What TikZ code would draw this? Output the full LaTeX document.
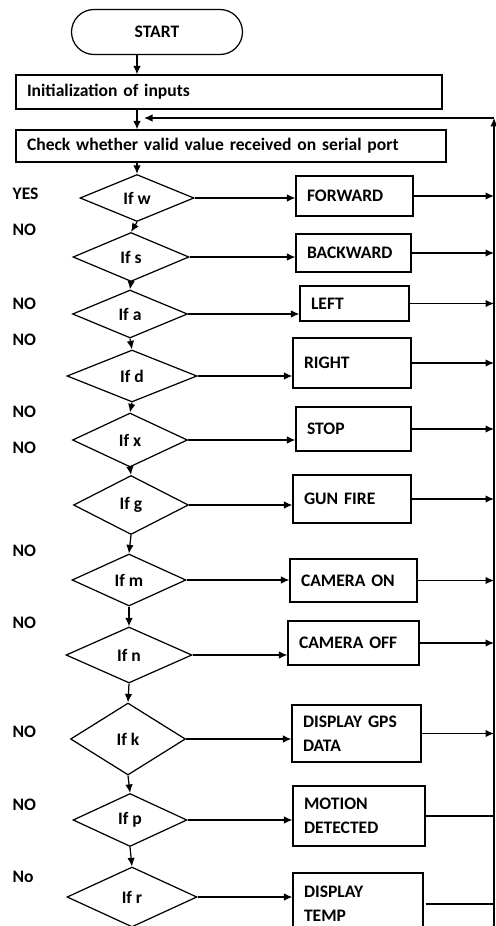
\documentclass[tikz,border=0pt]{standalone}
\usepackage{fontspec}
\setmainfont{Carlito}
\usetikzlibrary{arrows.meta,shapes.geometric}

\begin{document}
\begin{tikzpicture}[x=0.02cm,y=-0.02cm,line width=0.7pt,>={Latex[length=1.7mm,width=1.5mm]},
    every node/.style={font=\bfseries\fontsize{10}{13.5}\selectfont},
    terminal/.style={draw,rounded corners=0.45cm,minimum width=3.42cm,minimum height=0.9cm},
    process/.style={draw,inner xsep=0.22cm,align=left},
    decision/.style={draw,diamond,inner sep=0pt},
    action/.style={draw,inner xsep=0.22cm,align=left},
    answer/.style={anchor=west,inner sep=0pt}]
      \clip (0,0) rectangle (496,926);
      % main column
      \node[terminal] (start) at (157,32) {START};
      \node[process,text width=8.08cm,minimum height=0.68cm] (init) at (229,92) {Initialization of inputs};
      \node[process,text width=8.16cm,minimum height=0.64cm] (check) at (231,146) {Check whether valid value received on serial port};
      \node[decision,minimum width=2.28cm,minimum height=0.94cm] (ifw) at (137,198) {If w};
      \node[decision,minimum width=2.32cm,minimum height=0.98cm] (ifs) at (131,257) {If s};
      \node[decision,minimum width=2.30cm,minimum height=0.96cm] (ifa) at (130,314) {If a};
      \node[decision,minimum width=2.60cm,minimum height=1.04cm] (ifd) at (132,376) {If d};
      \node[decision,minimum width=2.30cm,minimum height=1.08cm] (ifx) at (130,440) {If x};
      \node[decision,minimum width=2.30cm,minimum height=1.18cm] (ifg) at (131,505) {If g};
      \node[decision,minimum width=2.28cm,minimum height=1.04cm] (ifm) at (129,580) {If m};
      \node[decision,minimum width=2.52cm,minimum height=1.12cm] (ifn) at (129,655) {If n};
      \node[decision,minimum width=2.30cm,minimum height=1.44cm] (ifk) at (128,739) {If k};
      \node[decision,minimum width=2.28cm,minimum height=1.06cm] (ifp) at (130,820) {If p};
      \node[decision,minimum width=2.60cm,minimum height=1.20cm] (ifr) at (132,897) {If r};
      % actions
      \node[action,text width=1.90cm,minimum height=0.80cm] (fwd) at (354.5,196) {FORWARD};
      \node[action,text width=1.86cm,minimum height=0.76cm] (bwd) at (353.5,253) {BACKWARD};
      \node[action,text width=1.74cm,minimum height=0.70cm] (lft) at (354.5,303.5) {LEFT};
      \node[action,text width=1.92cm,minimum height=1.00cm] (rgt) at (352,363) {RIGHT};
      \node[action,text width=1.86cm,minimum height=0.88cm] (stp) at (353.5,429) {STOP};
      \node[action,text width=1.92cm,minimum height=0.96cm] (gun) at (352,499) {GUN FIRE};
      \node[action,text width=2.10cm,minimum height=0.86cm] (camon) at (353.5,580.5) {CAMERA ON};
      \node[action,text width=2.18cm,minimum height=0.88cm] (camoff) at (353.5,643) {CAMERA OFF};
      \node[action,text width=2.14cm,minimum height=1.14cm] (gps) at (356.5,733.5) {DISPLAY GPS\\DATA};
      \node[action,text width=2.20cm,minimum height=1.20cm] (motion) at (359,816) {MOTION\\DETECTED};
      \node[action,text width=2.16cm,minimum height=1.24cm] (temp) at (358,904) {DISPLAY\\TEMP};
      % answers
      \node[answer] (yesw) at (12,194) {YES};
      \node[answer] (now) at (12,230) {NO};
      \node[answer] (nos) at (12,304) {NO};
      \node[answer] (noa) at (12,340) {NO};
      \node[answer] (nod) at (12,412) {NO};
      \node[answer] (nox) at (12,448) {NO};
      \node[answer] (nog) at (12,551) {NO};
      \node[answer] (nom) at (12,623) {NO};
      \node[answer] (non) at (12,732) {NO};
      \node[answer] (nok) at (12,805) {NO};
      \node[answer] (nop) at (12,877) {No};
      % return bus
      \coordinate (bus top) at (494,118);
      \coordinate (bus bot) at (494,930);
      \coordinate (join) at (144,118);
      % connectors
      \draw[->] (start.south -| ifw.north) -- (init.north -| ifw.north);
      \draw[->] (init.south -| ifw.north) -- (check.north -| ifw.north);
      \draw[->] (check.south -| ifw.north) -- (ifw.north);
      \draw[->] (ifw.south) -- (ifs.north);
      \draw[->] (ifs.south) -- (ifa.north);
      \draw[->] (ifa.south) -- (ifd.north);
      \draw[->] (ifd.south) -- (ifx.north);
      \draw[->] (ifx.south) -- (ifg.north);
      \draw[->] (ifg.south) -- (ifm.north);
      \draw[->] (ifm.south) -- (ifn.north);
      \draw[->] (ifn.south) -- (ifk.north);
      \draw[->] (ifk.south) -- (ifp.north);
      \draw[->] (ifp.south) -- (ifr.north);
      \draw[->] (ifw.east) -- (fwd.west |- ifw.east);
      \draw[->] (ifs.east) -- (bwd.west |- ifs.east);
      \draw[->] (ifa.east) -- (lft.west |- ifa.east);
      \draw[->] (ifd.east) -- (rgt.west |- ifd.east);
      \draw[->] (ifx.east) -- (stp.west |- ifx.east);
      \draw[->] (ifg.east) -- (gun.west |- ifg.east);
      \draw[->] (ifm.east) -- (camon.west |- ifm.east);
      \draw[->] (ifn.east) -- (camoff.west |- ifn.east);
      \draw[->] (ifk.east) -- (gps.west |- ifk.east);
      \draw[->] (ifp.east) -- (motion.west |- ifp.east);
      \draw[->] (ifr.east) -- (temp.west |- ifr.east);
      \draw[->] (fwd.east) -- (fwd.east -| bus top);
      \draw[->] (bwd.east) -- (bwd.east -| bus top);
      \draw[->] (lft.east) -- (lft.east -| bus top);
      \draw[->] (rgt.east) -- (rgt.east -| bus top);
      \draw[->] (stp.east) -- (stp.east -| bus top);
      \draw[->] (gun.east) -- (gun.east -| bus top);
      \draw[->] (camon.east) -- (camon.east -| bus top);
      \draw[->] (camoff.east) -- (camoff.east -| bus top);
      \draw[->] (gps.east) -- (gps.east -| bus top);
      \draw (motion.east) -- (motion.east -| bus top);
      \draw (temp.east -| motion.east) -- (temp.east -| bus top);
      \draw[->] (bus bot) -- (bus top);
      \draw[->] (bus top) -- (join);
    \end{tikzpicture}
\end{document}
